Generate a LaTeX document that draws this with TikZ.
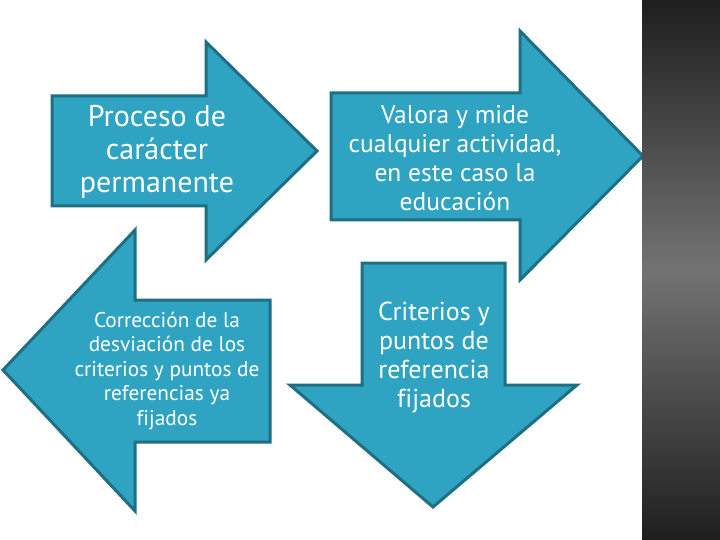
\documentclass[tikz,border=0pt]{standalone}
\usepackage{fontspec}
\setmainfont[Ligatures=NoCommon]{PT Sans}
\definecolor{arrowfill}{RGB}{47,163,194}
\definecolor{arrowline}{RGB}{31,111,131}
\begin{document}
\begin{tikzpicture}
	[x=1pt,y=-1pt,
	arrowbox/.style={fill=arrowfill,draw=arrowline,line width=3pt,line join=miter},
	lbl/.style={text=white,align=center,inner sep=0pt}]
	\useasboundingbox (0,0) rectangle (720,540);
	\fill[white] (0,0) rectangle (720,540);
	\draw[arrowbox] (52,96) -- (206,96) -- (206,42) -- (317,151) -- (206,260) -- (206,206) -- (52,206) -- cycle;
	\draw[arrowbox] (331,93) -- (520,93) -- (520,31) -- (643,156) -- (520,280) -- (520,220) -- (331,220) -- cycle;
	\draw[arrowbox] (270,300) -- (135,300) -- (135,230) -- (3,370) -- (135,511) -- (135,442) -- (270,442) -- cycle;
	\draw[arrowbox] (362,263) -- (505,263) -- (505,385) -- (577,385) -- (433,507) -- (290,385) -- (362,385) -- cycle;
	\shade[top color=black!88,bottom color=black!88,middle color=black!55] (642,0) rectangle (720,540);
	
	\node[lbl,font=\fontsize{30}{33}\selectfont] (n1) at (157,152) {Proceso de\\carácter\\permanente};
	\node[lbl,font=\fontsize{25.5}{29}\selectfont] (n2) at (455,158) {Valora y mide\\cualquier actividad,\\en este caso la\\educación};
	\node[lbl,font=\fontsize{21.3}{24.5}\selectfont] (n3) at (167,371) {Corrección de la\\desviación de los\\criterios y puntos de\\referencias ya\\fijados};
	\node[lbl,font=\fontsize{26}{29}\selectfont] (n4) at (434,357) {Criterios y\\puntos de\\referencia\\fijados};
\end{tikzpicture}
\end{document}
